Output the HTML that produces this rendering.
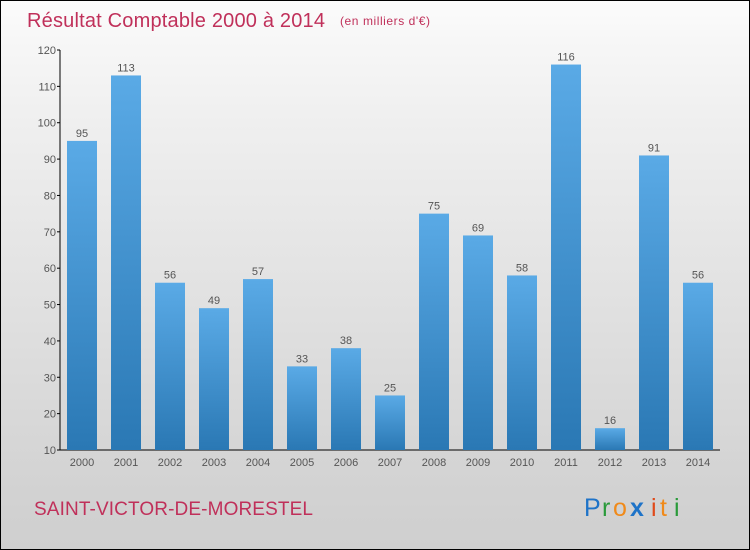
<!DOCTYPE html>
<html><head><meta charset="utf-8"><style>
html,body{margin:0;padding:0}
body{width:750px;height:550px;overflow:hidden;font-family:"Liberation Sans",sans-serif}
#wrap{position:absolute;left:0;top:0;width:748px;height:548px;border:1px solid #000;background:linear-gradient(#fbfbfb,#f0f0f0 20%,#d2d2d2 90%,#cfcfcf)}
</style></head><body>
<div id="wrap">
<svg width="750" height="550" style="position:absolute;left:-1px;top:-1px">
<defs><linearGradient id="bg" x1="0" y1="0" x2="0" y2="1"><stop offset="0" stop-color="#5aaae6"/><stop offset="1" stop-color="#2a78b4"/></linearGradient></defs>
<text x="27" y="27" font-size="20" fill="#c0305a" textLength="298">Résultat Comptable 2000 à 2014</text>
<text x="340" y="25" font-size="12" fill="#c0305a" textLength="90">(en milliers d'€)</text>
<g id="axes"></g><g id="bars"></g>
<text x="34" y="515" font-size="19" fill="#c0305a" textLength="279">SAINT-VICTOR-DE-MORESTEL</text>
<g font-size="25" font-family="Liberation Sans,sans-serif">
<text x="584" y="516" fill="#1e73c8">P</text><text x="602" y="516" fill="#2a9a3a">r</text><text x="613" y="516" fill="#f08a1a">o</text><text x="630" y="516" fill="#1e73c8" font-weight="bold">x</text><text x="651" y="516" fill="#e04a1a">i</text><text x="660" y="516" fill="#f08a1a">t</text><text x="674" y="516" fill="#2a9a3a">i</text></g>
</svg></div>
<script>
const years=["2000","2001","2002","2003","2004","2005","2006","2007","2008","2009","2010","2011","2012","2013","2014"];
const values=[95,113,56,49,57,33,38,25,75,69,58,116,16,91,56];
const yTicks=[10,20,30,40,50,60,70,80,90,100,110,120];
const NS="http://www.w3.org/2000/svg";
const y=v=>450-(v-10)*400/110;
const x=i=>82+44*i;
function mk(t,a,p){const e=document.createElementNS(NS,t);for(const k in a)e.setAttribute(k,a[k]);p.appendChild(e);return e;}
const ax=document.getElementById('axes'),bg=document.getElementById('bars');
let l=mk('line',{x1:60,y1:50,x2:60,y2:450,stroke:'#000'},ax);


l=mk('line',{x1:60,y1:450,x2:720,y2:450,stroke:'#000'},ax);


yTicks.forEach(v=>{
 mk('line',{x1:57,x2:60,y1:y(v),y2:y(v),stroke:'#000'},ax);
 const t=mk('text',{x:56,y:y(v)+4,'font-size':11,'text-anchor':'end',fill:'#555'},ax);t.textContent=v;
 
 
});
years.forEach((yr,i)=>{
 const r=mk('rect',{x:x(i)-15,y:y(values[i]),width:30,height:450-y(values[i]),fill:'url(#bg)'},bg);
 
 
 const v=mk('text',{x:x(i),y:y(values[i])-4,'font-size':11,'text-anchor':'middle',fill:'#555'},bg);v.textContent=values[i];
 
 
 const t=mk('text',{x:x(i),y:466,'font-size':11,'text-anchor':'middle',fill:'#555'},ax);t.textContent=yr;
 
 
});
</script>
</body></html>
